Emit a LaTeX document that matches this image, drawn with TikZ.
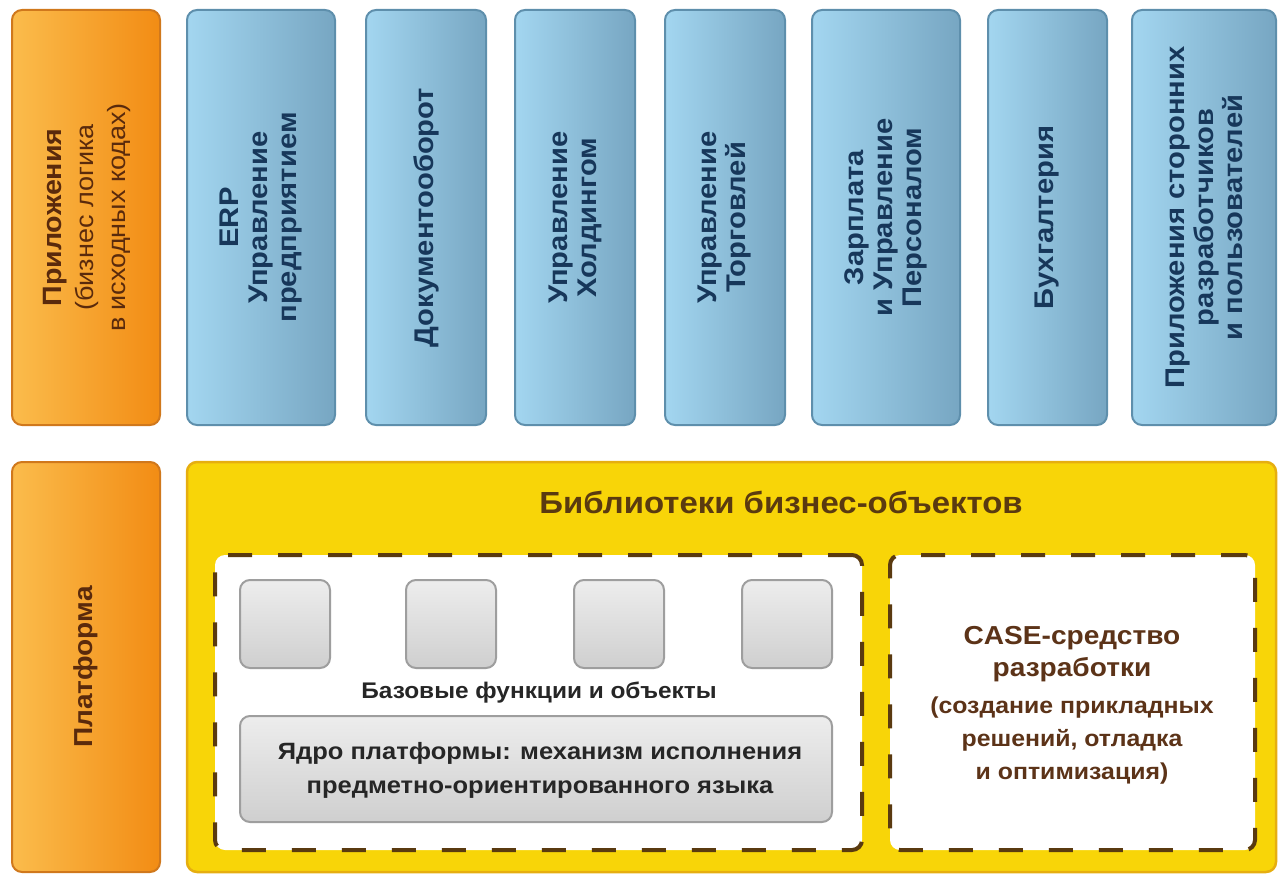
\documentclass[tikz,border=0pt]{standalone}
\usepackage{fontspec}
\setmainfont[FakeStretch=1.08]{Liberation Sans}
\definecolor{orangeL}{HTML}{FBBC4C}
\definecolor{orangeR}{HTML}{F28C14}
\definecolor{orangeEdge}{HTML}{D0781C}
\definecolor{orangeText}{HTML}{5A2A0C}
\definecolor{blueL}{HTML}{A3D6F0}
\definecolor{blueR}{HTML}{77A6C2}
\definecolor{blueEdge}{HTML}{5E8FAC}
\definecolor{blueText}{HTML}{17375A}
\definecolor{yellowFill}{HTML}{F8D508}
\definecolor{yellowEdge}{HTML}{E6AE10}
\definecolor{dashBrown}{HTML}{5A3A10}
\definecolor{grayTop}{HTML}{EDEDED}
\definecolor{grayBot}{HTML}{CFCFCF}
\definecolor{grayEdge}{HTML}{9E9E9E}
\definecolor{caseText}{HTML}{5C3318}
\definecolor{titleText}{HTML}{5A3A10}
\begin{document}
\begin{tikzpicture}[x=1pt,y=-1pt,
  base/.style={rounded corners=10pt, inner sep=0pt, outer sep=0pt, anchor=north west},
  orangebox/.style={base, draw=orangeEdge, line width=2pt, left color=orangeL, right color=orangeR},
  bluebox/.style={base, draw=blueEdge, line width=2pt, left color=blueL, right color=blueR},
  yellowbox/.style={base, draw=yellowEdge, line width=2.5pt, fill=yellowFill},
  dashbox/.style={base, draw=dashBrown, line width=4pt, dash pattern=on 24pt off 26pt, fill=white},
  graybox/.style={base, draw=grayEdge, line width=2pt, top color=grayTop, bottom color=grayBot},
  bluetext/.style={rotate=90, align=center, text=blueText, font=\fontsize{27}{29}\selectfont\bfseries},
  orangetext/.style={rotate=90, align=center, text=orangeText, font=\fontsize{25}{32}\selectfont},
]
\useasboundingbox (0,0) rectangle (1278,875);

% top row
\node[orangebox, minimum width=148pt, minimum height=415pt] (apps) at (12,10) {};
\node[orangetext] (appsT) at ([xshift=1pt]apps.center) {{\fontsize{26.5}{32}\selectfont\bfseries Приложения}\\(бизнес логика\\в исходных кодах)};

\node[bluebox, minimum width=148pt, minimum height=415pt] (erp) at (187,10) {};
\node[bluetext] (erpT) at (erp.center) {ERP\\Управление\\предприятием};

\node[bluebox, minimum width=120pt, minimum height=415pt] (doc) at (366,10) {};
\node[bluetext] (docT) at (doc.center) {Документооборот};

\node[bluebox, minimum width=120pt, minimum height=415pt] (hold) at (515,10) {};
\node[bluetext] (holdT) at (hold.center) {Управление\\Холдингом};

\node[bluebox, minimum width=120pt, minimum height=415pt] (trade) at (665,10) {};
\node[bluetext] (tradeT) at (trade.center) {Управление\\Торговлей};

\node[bluebox, minimum width=148pt, minimum height=415pt] (hr) at (812,10) {};
\node[bluetext] (hrT) at (hr.center) {Зарплата\\и Управление\\Персоналом};

\node[bluebox, minimum width=119pt, minimum height=415pt] (acc) at (988,10) {};
\node[bluetext] (accT) at (acc.center) {Бухгалтерия};

\node[bluebox, minimum width=144pt, minimum height=415pt] (third) at (1132,10) {};
\node[bluetext] (thirdT) at (third.center) {Приложения сторонних\\разработчиков\\и пользователей};

% bottom row
\node[orangebox, minimum width=148pt, minimum height=410pt] (plat) at (12,462) {};
\node[orangetext, font=\fontsize{26}{30}\selectfont\bfseries] (platT) at (plat.center) {Платформа};

\node[yellowbox, minimum width=1089pt, minimum height=410pt] (lib) at (187,462) {};
\node[text=titleText, font=\fontsize{30.5}{36}\selectfont\bfseries] (libT) at (781,502) {Библиотеки бизнес-объектов};

\node[dashbox, minimum width=647pt, minimum height=295pt] (basebox) at (215,555) {};
\node[dashbox, minimum width=365pt, minimum height=295pt] (casebox) at (890,555) {};

\node[graybox, minimum width=90pt, minimum height=88pt] (sq1) at (240,580) {};
\node[graybox, minimum width=90pt, minimum height=88pt] (sq2) at (406,580) {};
\node[graybox, minimum width=90pt, minimum height=88pt] (sq3) at (574,580) {};
\node[graybox, minimum width=90pt, minimum height=88pt] (sq4) at (742,580) {};

\node[text=black!85, font=\fontsize{22.6}{26}\selectfont\bfseries] (baseT) at (539,693) {Базовые функции и объекты};

\node[graybox, minimum width=592pt, minimum height=106pt] (core) at (240,716) {};
\node[align=center, text=black!85, font=\fontsize{23.6}{34}\selectfont\bfseries] (coreT) at ([xshift=4pt,yshift=-1pt]core.center) {Ядро платформы: механизм исполнения\\предметно-ориентированного языка};

\node[align=center, text=caseText, font=\fontsize{26}{32}\selectfont\bfseries] (caseT) at (1072,654) {CASE-средство\\разработки};
\node[align=center, text=caseText, font=\fontsize{23}{33}\selectfont\bfseries] (caseS) at (1072,741) {(создание прикладных\\решений, отладка\\и оптимизация)};
\end{tikzpicture}
\end{document}
